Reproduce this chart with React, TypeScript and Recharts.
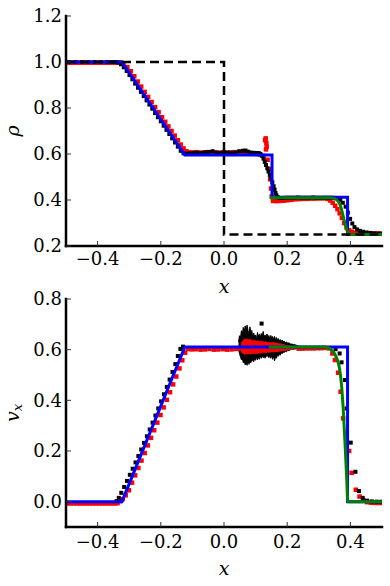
import React from 'react';
import { ComposedChart, Line, Scatter, Area, XAxis, YAxis, Label } from 'recharts';

// ---------- top panel: density rho(x) ----------
const xTicks = [-0.4, -0.2, 0, 0.2, 0.4];
const rhoTicks = [0.2, 0.4, 0.6, 0.8, 1.0, 1.2];
const vTicks = [0.0, 0.2, 0.4, 0.6, 0.8];

// initial condition (dashed)
const rhoInit: [number, number][] = [[-0.5, 1.0], [0, 1.0], [0, 0.25], [0.5, 0.25]];
// analytic solution (blue)
const rhoExact: [number, number][] = [
  [-0.5, 1.0], [-0.323, 1.0], [-0.124, 0.596], [0.152, 0.596], [0.152, 0.412],
  [0.391, 0.412], [0.391, 0.25], [0.5, 0.25],
];
// green run near the shock
const rhoGreen: [number, number][] = [
  [0.145, 0.41], [0.335, 0.41], [0.348, 0.407], [0.357, 0.4], [0.365, 0.386], [0.37, 0.368],
  [0.375, 0.342], [0.38, 0.314], [0.385, 0.286], [0.39, 0.264], [0.395, 0.253], [0.4, 0.25], [0.5, 0.25],
];
const rhoRed: [number, number][] = [
  [-0.495, 0.997], [-0.485, 0.997], [-0.475, 0.997], [-0.465, 0.997], [-0.455, 0.997], [-0.445, 0.997],
  [-0.435, 0.997], [-0.425, 0.997], [-0.415, 0.997], [-0.405, 0.997], [-0.395, 0.997], [-0.385, 0.997],
  [-0.375, 0.997], [-0.365, 0.997], [-0.355, 0.997], [-0.345, 0.997], [-0.336, 0.997],
  [-0.326, 0.998], [-0.318, 0.992], [-0.306, 0.978], [-0.295, 0.96], [-0.284, 0.938], [-0.273, 0.915],
  [-0.262, 0.893], [-0.251, 0.87], [-0.24, 0.848], [-0.229, 0.826], [-0.218, 0.804], [-0.207, 0.782],
  [-0.196, 0.76], [-0.186, 0.74], [-0.176, 0.72], [-0.166, 0.7], [-0.156, 0.68], [-0.146, 0.66],
  [-0.137, 0.641], [-0.128, 0.624], [-0.119, 0.612], [-0.11, 0.607],
  [-0.1, 0.607], [-0.088, 0.608], [-0.076, 0.606], [-0.064, 0.607], [-0.052, 0.608], [-0.04, 0.606],
  [-0.028, 0.607], [-0.016, 0.606], [-0.004, 0.607], [0.008, 0.606], [0.02, 0.607], [0.032, 0.608],
  [0.044, 0.606], [0.056, 0.607], [0.068, 0.606], [0.08, 0.605], [0.092, 0.603], [0.104, 0.6], [0.114, 0.597],
  [0.124, 0.592], [0.13, 0.66], [0.132, 0.668], [0.134, 0.648], [0.135, 0.632], [0.133, 0.62],
  [0.138, 0.575], [0.142, 0.535], [0.146, 0.49], [0.149, 0.45], [0.151, 0.415],
  [0.155, 0.396], [0.166, 0.395], [0.178, 0.396], [0.19, 0.397], [0.202, 0.399], [0.214, 0.401],
  [0.226, 0.403], [0.238, 0.404], [0.25, 0.405], [0.262, 0.405], [0.274, 0.406], [0.286, 0.406],
  [0.298, 0.407], [0.309, 0.407],
  [0.318, 0.408], [0.327, 0.405], [0.336, 0.398], [0.344, 0.388], [0.352, 0.375], [0.359, 0.36],
  [0.366, 0.342], [0.373, 0.322], [0.38, 0.3], [0.388, 0.28], [0.396, 0.268], [0.404, 0.262],
  [0.413, 0.258], [0.423, 0.256], [0.433, 0.255], [0.444, 0.255], [0.455, 0.254], [0.466, 0.254],
  [0.477, 0.254], [0.488, 0.254], [0.498, 0.254],
];
const rhoBlack: [number, number][] = [
  [-0.49, 1.0], [-0.47, 1.0], [-0.45, 1.0], [-0.43, 1.0], [-0.41, 1.0], [-0.39, 1.0], [-0.37, 1.0],
  [-0.355, 1.0], [-0.343, 1.0],
  [-0.335, 0.998], [-0.326, 0.99], [-0.317, 0.977], [-0.308, 0.961], [-0.299, 0.943], [-0.29, 0.925],
  [-0.281, 0.906], [-0.272, 0.888], [-0.263, 0.87], [-0.254, 0.852], [-0.245, 0.833], [-0.236, 0.815],
  [-0.227, 0.797], [-0.218, 0.778], [-0.209, 0.76], [-0.2, 0.742], [-0.191, 0.723], [-0.182, 0.705],
  [-0.173, 0.687], [-0.164, 0.668], [-0.155, 0.65], [-0.146, 0.632], [-0.137, 0.614], [-0.128, 0.603],
  [-0.119, 0.601],
  [-0.108, 0.603], [-0.096, 0.605], [-0.084, 0.606], [-0.072, 0.604], [-0.06, 0.607], [-0.048, 0.609],
  [-0.036, 0.612], [-0.024, 0.606], [-0.012, 0.604], [0.0, 0.608], [0.012, 0.606], [0.024, 0.605],
  [0.036, 0.607], [0.048, 0.612], [0.06, 0.614], [0.068, 0.615], [0.076, 0.61], [0.086, 0.606],
  [0.096, 0.605], [0.104, 0.604],
  [0.11, 0.604], [0.115, 0.6], [0.12, 0.592], [0.125, 0.58], [0.129, 0.566], [0.133, 0.552],
  [0.137, 0.538], [0.141, 0.524], [0.145, 0.509], [0.149, 0.493], [0.153, 0.477], [0.157, 0.46],
  [0.16, 0.445], [0.163, 0.43], [0.166, 0.42], [0.17, 0.412], [0.176, 0.409],
  [0.186, 0.409], [0.198, 0.41], [0.21, 0.41], [0.222, 0.41], [0.234, 0.411], [0.246, 0.41],
  [0.258, 0.41], [0.27, 0.41], [0.282, 0.411], [0.294, 0.41], [0.306, 0.41], [0.318, 0.41], [0.329, 0.41],
  [0.34, 0.41], [0.35, 0.409], [0.36, 0.406], [0.368, 0.4], [0.376, 0.388], [0.385, 0.371],
  [0.392, 0.345], [0.399, 0.318], [0.406, 0.298], [0.413, 0.282], [0.421, 0.272], [0.43, 0.266],
  [0.44, 0.262], [0.451, 0.259], [0.463, 0.257], [0.476, 0.255], [0.489, 0.254], [0.5, 0.253],
];

// ---------- bottom panel: velocity v_x(x) ----------
const vExact: [number, number][] = [
  [-0.5, 0.0], [-0.323, 0.0], [-0.124, 0.611], [0.391, 0.611], [0.391, 0.0], [0.5, 0.0],
];
const vGreen: [number, number][] = [
  [0.142, 0.611], [0.31, 0.611], [0.325, 0.609], [0.338, 0.601], [0.35, 0.584], [0.358, 0.562],
  [0.365, 0.53], [0.372, 0.46], [0.378, 0.35], [0.383, 0.23], [0.388, 0.1], [0.392, 0.0], [0.5, 0.0],
];
const vRed: [number, number][] = [
  [-0.495, -0.007], [-0.485, -0.007], [-0.475, -0.007], [-0.465, -0.007], [-0.455, -0.007],
  [-0.445, -0.007], [-0.435, -0.007], [-0.425, -0.007], [-0.415, -0.007], [-0.405, -0.007],
  [-0.395, -0.007], [-0.385, -0.007], [-0.375, -0.007], [-0.365, -0.007], [-0.355, -0.007],
  [-0.345, -0.007], [-0.337, -0.006],
  [-0.33, 0.002], [-0.321, 0.01], [-0.311, 0.025], [-0.301, 0.045], [-0.291, 0.075], [-0.281, 0.104],
  [-0.271, 0.133], [-0.261, 0.162], [-0.251, 0.192], [-0.241, 0.222], [-0.231, 0.252], [-0.221, 0.282],
  [-0.211, 0.312], [-0.201, 0.342], [-0.191, 0.372], [-0.181, 0.402], [-0.171, 0.432], [-0.161, 0.463],
  [-0.151, 0.494], [-0.141, 0.526], [-0.132, 0.558], [-0.123, 0.588], [-0.114, 0.603],
  [-0.102, 0.601], [-0.088, 0.602], [-0.074, 0.6], [-0.06, 0.601], [-0.046, 0.603], [-0.032, 0.6],
  [-0.018, 0.601], [-0.004, 0.602], [0.01, 0.6], [0.024, 0.601], [0.038, 0.603], [0.048, 0.605],
  [0.236, 0.604], [0.248, 0.604], [0.26, 0.605], [0.272, 0.605], [0.284, 0.605], [0.296, 0.606],
  [0.308, 0.606], [0.318, 0.607],
  [0.332, 0.605], [0.343, 0.585], [0.351, 0.559], [0.361, 0.509], [0.369, 0.434], [0.377, 0.329],
  [0.387, 0.272], [0.396, 0.2], [0.404, 0.114], [0.417, 0.047], [0.429, 0.02], [0.441, 0.006],
  [0.453, -0.002], [0.465, -0.004], [0.477, -0.005], [0.489, -0.005], [0.499, -0.005],
];
const vBlack: [number, number][] = [
  [-0.34, 0.002], [-0.333, 0.015], [-0.325, 0.035], [-0.316, 0.058], [-0.307, 0.082], [-0.298, 0.106],
  [-0.289, 0.13], [-0.28, 0.155], [-0.271, 0.18], [-0.262, 0.206], [-0.253, 0.232], [-0.244, 0.258],
  [-0.235, 0.285], [-0.226, 0.312], [-0.217, 0.34], [-0.208, 0.368], [-0.199, 0.396], [-0.19, 0.424],
  [-0.181, 0.453], [-0.172, 0.482], [-0.163, 0.512], [-0.154, 0.543], [-0.146, 0.575], [-0.138, 0.603],
  [-0.13, 0.612],
  [0.119, 0.703],
  [0.353, 0.602], [0.366, 0.585], [0.372, 0.55], [0.383, 0.48], [0.388, 0.368], [0.401, 0.233],
  [0.416, 0.118], [0.427, 0.042], [0.439, 0.015], [0.453, 0.004], [0.468, 0.001], [0.484, 0.0], [0.499, 0.0],
];
// noisy post-contact region: [x, low, high]
const vBlackNoise: [number, number, number][] = [
  [0.046, 0.6, 0.63], [0.049, 0.585, 0.655], [0.052, 0.572, 0.645], [0.055, 0.56, 0.675],
  [0.058, 0.566, 0.66], [0.061, 0.548, 0.688], [0.064, 0.556, 0.668], [0.067, 0.54, 0.694],
  [0.07, 0.55, 0.672], [0.073, 0.538, 0.697], [0.076, 0.558, 0.676], [0.079, 0.542, 0.66],
  [0.082, 0.556, 0.69], [0.085, 0.548, 0.664], [0.088, 0.562, 0.676], [0.091, 0.556, 0.648],
  [0.094, 0.552, 0.666], [0.097, 0.568, 0.65], [0.1, 0.558, 0.658], [0.103, 0.572, 0.642],
  [0.106, 0.56, 0.668], [0.109, 0.57, 0.65], [0.112, 0.562, 0.662], [0.115, 0.576, 0.648],
  [0.118, 0.566, 0.664], [0.121, 0.578, 0.652], [0.124, 0.568, 0.672], [0.127, 0.578, 0.65],
  [0.13, 0.566, 0.658], [0.133, 0.58, 0.644], [0.136, 0.572, 0.662], [0.139, 0.582, 0.648],
  [0.142, 0.568, 0.656], [0.145, 0.58, 0.642], [0.148, 0.566, 0.656], [0.151, 0.578, 0.646],
  [0.154, 0.562, 0.652], [0.157, 0.576, 0.64], [0.16, 0.556, 0.652], [0.163, 0.572, 0.638],
  [0.166, 0.566, 0.648], [0.169, 0.58, 0.636], [0.172, 0.574, 0.644], [0.175, 0.584, 0.634],
  [0.178, 0.578, 0.64], [0.181, 0.588, 0.632], [0.184, 0.584, 0.638], [0.187, 0.592, 0.63],
  [0.19, 0.588, 0.634], [0.194, 0.594, 0.628], [0.198, 0.592, 0.63], [0.202, 0.597, 0.625],
  [0.206, 0.596, 0.627], [0.21, 0.6, 0.622], [0.215, 0.601, 0.622], [0.22, 0.603, 0.62],
  [0.225, 0.604, 0.619], [0.23, 0.605, 0.617], [0.236, 0.606, 0.615],
];
const vRedNoise: [number, number, number][] = [
  [0.054, 0.592, 0.625], [0.06, 0.585, 0.636], [0.066, 0.582, 0.64], [0.072, 0.584, 0.642],
  [0.078, 0.586, 0.638], [0.084, 0.583, 0.64], [0.09, 0.585, 0.634], [0.096, 0.587, 0.637],
  [0.102, 0.584, 0.632], [0.108, 0.588, 0.635], [0.114, 0.586, 0.63], [0.12, 0.589, 0.633],
  [0.126, 0.59, 0.629], [0.132, 0.588, 0.631], [0.138, 0.591, 0.627], [0.144, 0.59, 0.629],
  [0.15, 0.592, 0.626], [0.156, 0.591, 0.628], [0.162, 0.593, 0.624], [0.168, 0.592, 0.626],
  [0.174, 0.594, 0.622], [0.18, 0.595, 0.623], [0.186, 0.596, 0.62], [0.192, 0.597, 0.619],
  [0.198, 0.598, 0.617], [0.204, 0.599, 0.616], [0.21, 0.6, 0.614], [0.216, 0.601, 0.613],
  [0.222, 0.602, 0.612], [0.228, 0.603, 0.611],
];

const pts = (a: [number, number][]) => a.map(([x, y]) => ({ x, y }));
const bands = (a: [number, number, number][]) => a.map(([x, lo, hi]) => ({ x, band: [lo, hi] }));

const serif = '"DejaVu Serif", serif';
const fmt = (v: number) => (v < 0 ? '\u2212' : '') + Math.abs(v).toFixed(1);
const tickFont = { fontFamily: serif, fontSize: 18, fill: '#000' };
const border = { stroke: '#000', strokeWidth: 2.5, strokeLinecap: 'square' as const };
const tickStroke = { stroke: '#333', strokeWidth: 1 };

const square = (color: string, s: number) => (p: any) => (
  <rect x={p.cx - s / 2} y={p.cy - s / 2} width={s} height={s} fill={color} />
);

const YTitle = ({ viewBox, main, sub }: any) => {
  const vb = viewBox || { x: 0, y: 0, width: 66, height: 230 };
  const cx = vb.x + 19;
  const cy = vb.y + vb.height / 2;
  return (
    <text x={cx} y={cy} transform={`rotate(-90 ${cx} ${cy})`} textAnchor="middle"
      style={{ fontFamily: serif, fontStyle: 'italic', fontSize: 19 }} fill="#000">
      {main}
      {sub ? <tspan fontSize={13} dy={3}>{sub}</tspan> : null}
    </text>
  );
};

const XTitle = ({ viewBox, off }: any) => {
  const vb = viewBox || { x: 66, y: 0, width: 316, height: 54 };
  return (
    <text x={vb.x + vb.width / 2} y={vb.y + vb.height - off} textAnchor="middle"
      style={{ fontFamily: serif, fontStyle: 'italic', fontSize: 19 }} fill="#000">x</text>
  );
};

function Frame({ xOff, tickGap }: any) {
  return [
    <XAxis key="xb" dataKey="x" type="number" domain={[-0.5, 0.5]} ticks={xTicks} interval={0}
      allowDataOverflow tickFormatter={fmt} tick={tickFont} tickSize={-5} tickMargin={tickGap}
      axisLine={border} tickLine={tickStroke} height={xOff.h}>
      <Label content={(p: any) => <XTitle viewBox={p.viewBox} off={xOff.off} />} />
    </XAxis>,
    <XAxis key="xt" xAxisId="t" orientation="top" type="number" domain={[-0.5, 0.5]} ticks={xTicks}
      interval={0} allowDataOverflow tick={false} tickSize={-5} axisLine={border} tickLine={tickStroke} height={0} />,
  ];
}

export default function App() {
  return (
    <div style={{ position: 'absolute', left: 0, top: 0, width: 390, height: 586, background: '#fff', fontFamily: serif }}>
      <div style={{ position: 'absolute', left: 0, top: 0 }}>
        <ComposedChart width={390} height={300} margin={{ top: 16, right: 8, bottom: 0, left: 0 }}>
          <Scatter data={pts(rhoRed)} dataKey="y" shape={square('#ff0000', 4.5)} isAnimationActive={false} zIndex={102} />
          <Scatter data={pts(rhoBlack)} dataKey="y" shape={square('#000000', 4)} isAnimationActive={false} zIndex={103} />
          <Line data={pts(rhoExact)} dataKey="y" type="linear" stroke="#0000ff" strokeWidth={3} dot={false}
            activeDot={false} isAnimationActive={false} zIndex={410} />
          <Line data={pts(rhoGreen)} dataKey="y" type="monotone" stroke="#008000" strokeWidth={3} dot={false}
            activeDot={false} isAnimationActive={false} zIndex={420} />
          <Line data={pts(rhoInit)} dataKey="y" type="linear" stroke="#000" strokeWidth={2.5} strokeDasharray="9 5"
            dot={false} activeDot={false} isAnimationActive={false} zIndex={430} />
          {Frame({ xOff: { h: 54, off: 7 }, tickGap: 11 })}
          <YAxis type="number" domain={[0.2, 1.2]} ticks={rhoTicks} interval={0} allowDataOverflow
            tickFormatter={fmt} tick={tickFont} tickSize={-5} tickMargin={9} axisLine={border}
            tickLine={tickStroke} width={66}>
            <Label content={(p: any) => <YTitle viewBox={p.viewBox} main="ρ" />} />
          </YAxis>
          <YAxis yAxisId="r" orientation="right" type="number" domain={[0.2, 1.2]} ticks={rhoTicks}
            interval={0} allowDataOverflow tick={false} tickSize={-5} axisLine={border} tickLine={tickStroke} width={0} />
        </ComposedChart>
      </div>
      <div style={{ position: 'absolute', left: 0, top: 280 }}>
        <ComposedChart width={390} height={306} margin={{ top: 19, right: 8, bottom: 0, left: 0 }}>
          <Area data={bands(vBlackNoise)} dataKey="band" type="linear" stroke="#000" strokeWidth={1}
            fill="#000" fillOpacity={1} dot={false} activeDot={false} isAnimationActive={false} zIndex={100} />
          <Area data={bands(vRedNoise)} dataKey="band" type="linear" stroke="#ff0000" strokeWidth={1}
            fill="#ff0000" fillOpacity={1} dot={false} activeDot={false} isAnimationActive={false} zIndex={101} />
          <Scatter data={pts(vRed)} dataKey="y" shape={square('#ff0000', 4.5)} isAnimationActive={false} zIndex={102} />
          <Scatter data={pts(vBlack)} dataKey="y" shape={square('#000000', 4)} isAnimationActive={false} zIndex={103} />
          <Line data={pts(vExact)} dataKey="y" type="linear" stroke="#0000ff" strokeWidth={3} dot={false}
            activeDot={false} isAnimationActive={false} zIndex={410} />
          <Line data={pts(vGreen)} dataKey="y" type="monotone" stroke="#008000" strokeWidth={3} dot={false}
            activeDot={false} isAnimationActive={false} zIndex={420} />
          {Frame({ xOff: { h: 59, off: 11 }, tickGap: 13 })}
          <YAxis type="number" domain={[-0.1, 0.8]} ticks={vTicks} interval={0} allowDataOverflow
            tickFormatter={fmt} tick={tickFont} tickSize={-5} tickMargin={9} axisLine={border}
            tickLine={tickStroke} width={66}>
            <Label content={(p: any) => <YTitle viewBox={p.viewBox} main="v" sub="x" />} />
          </YAxis>
          <YAxis yAxisId="r" orientation="right" type="number" domain={[-0.1, 0.8]} ticks={vTicks}
            interval={0} allowDataOverflow tick={false} tickSize={-5} axisLine={border} tickLine={tickStroke} width={0} />
        </ComposedChart>
      </div>
    </div>
  );
}
